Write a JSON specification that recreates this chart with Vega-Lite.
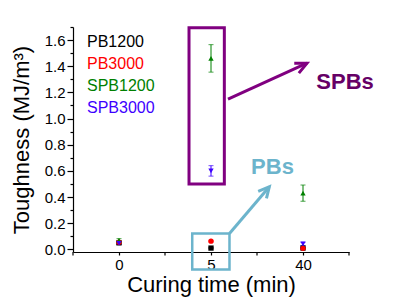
{
  "$schema": "https://vega.github.io/schema/vega-lite/v6.json",
  "width": 276,
  "height": 225,
  "autosize": "none",
  "padding": {"left": 73, "top": 27, "right": 50, "bottom": 47},
  "background": "white",
  "config": {
    "font": "Liberation Sans",
    "view": {"stroke": null},
    "axis": {
      "grid": false,
      "domainColor": "#000000",
      "tickColor": "#000000",
      "labelColor": "#000000",
      "titleColor": "#000000",
      "labelFont": "Liberation Sans",
      "titleFont": "Liberation Sans",
      "titleFontWeight": "normal",
      "domainWidth": 1.2,
      "tickWidth": 1.2
    }
  },
  "layer": [
    {
      "data": {
        "values": [
          {"time": "0", "series": "PB1200", "toughness": 0.05, "err": 0.01},
          {"time": "0", "series": "PB3000", "toughness": 0.055, "err": 0.01},
          {"time": "0", "series": "SPB1200", "toughness": 0.07, "err": 0.012},
          {"time": "0", "series": "SPB3000", "toughness": 0.047, "err": 0.01},
          {"time": "5", "series": "PB1200", "toughness": 0.01, "err": 0.004},
          {"time": "5", "series": "PB3000", "toughness": 0.063, "err": 0.006},
          {"time": "5", "series": "SPB1200", "toughness": 1.46, "err": 0.105},
          {"time": "5", "series": "SPB3000", "toughness": 0.6, "err": 0.04},
          {"time": "40", "series": "PB1200", "toughness": 0.01, "err": 0.004},
          {"time": "40", "series": "PB3000", "toughness": 0.008, "err": 0.004},
          {"time": "40", "series": "SPB1200", "toughness": 0.43, "err": 0.062},
          {"time": "40", "series": "SPB3000", "toughness": 0.042, "err": 0.012}
        ]
      },
      "encoding": {
        "x": {
          "field": "time",
          "type": "ordinal",
          "sort": ["0", "5", "40"],
          "scale": {"type": "point", "domain": ["0", "5", "40"], "padding": 0.5},
          "axis": {
            "title": "Curing time (min)",
            "labelAngle": 0,
            "labelFontSize": 15,
            "tickSize": 3,
            "labelPadding": 2,
            "titleFontSize": 22,
            "titlePadding": 2
          }
        },
        "y": {
          "field": "toughness",
          "type": "quantitative",
          "scale": {"domain": [-0.02, 1.7], "nice": false, "zero": false},
          "axis": {
            "title": "Toughness (MJ/m³)",
            "values": [0, 0.1, 0.2, 0.3, 0.4, 0.5, 0.6, 0.7, 0.8, 0.9, 1.0, 1.1, 1.2, 1.3, 1.4, 1.5, 1.6, 1.7],
            "labelExpr": "abs(datum.value*5 - round(datum.value*5)) < 0.01 ? format(datum.value, '.1f') : ''",
            "tickSize": {"condition": {"test": "abs(datum.value*5 - round(datum.value*5)) < 0.01", "value": 6}, "value": 3},
            "labelFontSize": 15,
            "labelPadding": 2,
            "titleFontSize": 22,
            "titlePadding": 11
          }
        },
        "color": {
          "field": "series",
          "type": "nominal",
          "scale": {
            "domain": ["PB1200", "PB3000", "SPB1200", "SPB3000"],
            "range": ["#000000", "#FF0000", "#008000", "#3D00FF"]
          },
          "legend": {
            "orient": "none",
            "legendX": -2,
            "legendY": 7,
            "title": null,
            "padding": 0,
            "symbolSize": 0,
            "symbolOpacity": 0,
            "symbolStrokeWidth": 0,
            "labelOffset": 0,
            "labelFont": "Liberation Sans",
            "labelFontSize": 16,
            "rowPadding": 6,
            "labelColor": {"expr": "datum.value == 'PB1200' ? '#000000' : datum.value == 'PB3000' ? '#FF0000' : datum.value == 'SPB1200' ? '#008000' : '#3D00FF'"}
          }
        }
      },
      "layer": [
        {
          "mark": {"type": "errorbar", "ticks": {"size": 5}, "thickness": 1},
          "encoding": {"yError": {"field": "err"}}
        },
        {
          "mark": {"type": "point", "filled": true, "size": 28, "opacity": 1},
          "encoding": {
            "shape": {
              "field": "series",
              "type": "nominal",
              "scale": {
                "domain": ["PB1200", "PB3000", "SPB1200", "SPB3000"],
                "range": ["square", "circle", "triangle-up", "triangle-down"]
              },
              "legend": null
            }
          }
        }
      ]
    },
    {
      "layer": [
        {
          "data": {"values": [{"ax": -0.5}, {"ax": 0.5}, {"ax": 1.5}, {"ax": 2.5}]},
          "mark": {"type": "rule", "color": "#000000", "strokeWidth": 1.2, "clip": false},
          "encoding": {
            "x": {"field": "ax", "type": "quantitative", "scale": {"domain": [-0.5, 2.5], "nice": false, "zero": false}, "axis": null},
            "y": {"datum": -0.02, "type": "quantitative", "scale": {"domain": [-0.02, 1.7], "nice": false, "zero": false}, "axis": null},
            "y2": {"datum": -0.046}
          }
        },
        {
          "data": {"values": [{"ax": 0.761, "ax2": 1.145, "ay": 0.499, "ay2": 1.694}]},
          "mark": {"type": "rect", "filled": false, "color": "#800080", "strokeWidth": 3, "clip": false},
          "encoding": {
            "x": {"field": "ax", "type": "quantitative", "axis": null},
            "x2": {"field": "ax2"},
            "y": {"field": "ay", "type": "quantitative", "scale": {"domain": [-0.02, 1.7], "nice": false, "zero": false}, "axis": null},
            "y2": {"field": "ay2"}
          }
        },
        {
          "data": {"values": [{"ax": 0.796, "ax2": 1.201, "ay": -0.154, "ay2": 0.122}]},
          "mark": {"type": "rect", "filled": false, "color": "#6CB4CC", "strokeWidth": 2.5, "clip": false},
          "encoding": {
            "x": {"field": "ax", "type": "quantitative", "axis": null},
            "x2": {"field": "ax2"},
            "y": {"field": "ay", "type": "quantitative", "scale": {"domain": [-0.02, 1.7], "nice": false, "zero": false}, "axis": null},
            "y2": {"field": "ay2"}
          }
        },
        {
          "data": {
            "values": [
              {"part": "shaft", "k": 1, "ax": 1.185, "ay": 1.148},
              {"part": "shaft", "k": 2, "ax": 2.043, "ay": 1.423},
              {"part": "head", "k": 1, "ax": 1.905, "ay": 1.423},
              {"part": "head", "k": 2, "ax": 2.043, "ay": 1.423},
              {"part": "head", "k": 3, "ax": 1.955, "ay": 1.347}
            ]
          },
          "mark": {"type": "line", "color": "#800080", "strokeWidth": 3, "clip": false, "strokeJoin": "miter"},
          "encoding": {
            "x": {"field": "ax", "type": "quantitative", "axis": null},
            "y": {"field": "ay", "type": "quantitative", "scale": {"domain": [-0.02, 1.7], "nice": false, "zero": false}, "axis": null},
            "detail": {"field": "part"},
            "order": {"field": "k"}
          }
        },
        {
          "data": {
            "values": [
              {"part": "shaft", "k": 1, "ax": 1.201, "ay": 0.122},
              {"part": "shaft", "k": 2, "ax": 1.634, "ay": 0.479},
              {"part": "head", "k": 1, "ax": 1.513, "ay": 0.444},
              {"part": "head", "k": 2, "ax": 1.634, "ay": 0.479},
              {"part": "head", "k": 3, "ax": 1.603, "ay": 0.39}
            ]
          },
          "mark": {"type": "line", "color": "#6CB4CC", "strokeWidth": 3, "clip": false, "strokeJoin": "miter"},
          "encoding": {
            "x": {"field": "ax", "type": "quantitative", "axis": null},
            "y": {"field": "ay", "type": "quantitative", "scale": {"domain": [-0.02, 1.7], "nice": false, "zero": false}, "axis": null},
            "detail": {"field": "part"},
            "order": {"field": "k"}
          }
        },
        {
          "data": {"values": [{"label": "SPBs", "ax": 2.457, "ay": 1.282}]},
          "mark": {"type": "text", "color": "#660066", "fontSize": 22, "fontWeight": "bold", "font": "Liberation Sans", "align": "center", "baseline": "middle", "clip": false},
          "encoding": {
            "x": {"field": "ax", "type": "quantitative", "axis": null},
            "y": {"field": "ay", "type": "quantitative", "scale": {"domain": [-0.02, 1.7], "nice": false, "zero": false}, "axis": null},
            "text": {"field": "label"}
          }
        },
        {
          "data": {"values": [{"label": "PBs", "ax": 1.668, "ay": 0.626}]},
          "mark": {"type": "text", "color": "#6CB4CC", "fontSize": 22, "fontWeight": "bold", "font": "Liberation Sans", "align": "center", "baseline": "middle", "clip": false},
          "encoding": {
            "x": {"field": "ax", "type": "quantitative", "axis": null},
            "y": {"field": "ay", "type": "quantitative", "scale": {"domain": [-0.02, 1.7], "nice": false, "zero": false}, "axis": null},
            "text": {"field": "label"}
          }
        }
      ],
      "resolve": {"axis": {"x": "independent", "y": "independent"}}
    }
  ],
  "resolve": {"scale": {"x": "independent"}, "axis": {"x": "independent", "y": "independent"}}
}
